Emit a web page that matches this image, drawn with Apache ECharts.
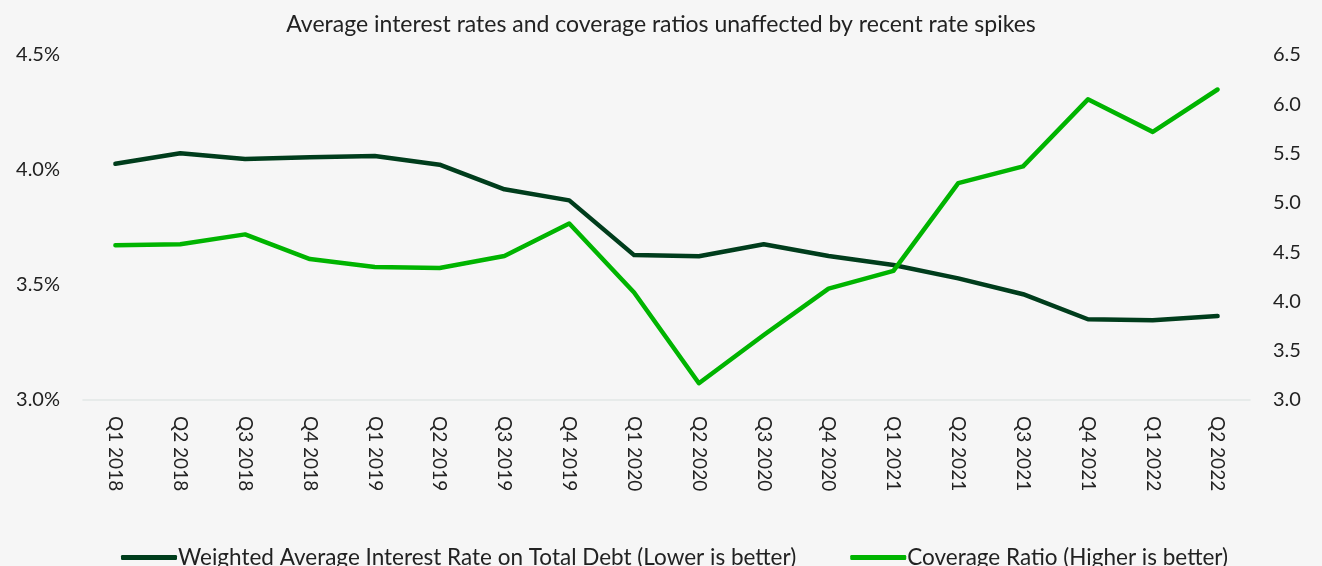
<!DOCTYPE html>
<html>
<head>
<meta charset="utf-8">
<script src="https://cdn.jsdelivr.net/npm/echarts@6/dist/echarts.min.js"></script>
<style>
html,body{margin:0;padding:0;background:#f6f6f6;}
#chart{width:1322px;height:566px;}
</style>
</head>
<body>
<div id="chart"></div>
<script>
const categories = ['Q1 2018','Q2 2018','Q3 2018','Q4 2018','Q1 2019','Q2 2019','Q3 2019','Q4 2019','Q1 2020','Q2 2020','Q3 2020','Q4 2020','Q1 2021','Q2 2021','Q3 2021','Q4 2021','Q1 2022','Q2 2022'];
const interestRate = [4.027,4.073,4.048,4.055,4.061,4.023,3.916,3.868,3.630,3.625,3.677,3.626,3.587,3.529,3.460,3.351,3.347,3.365];
const coverageRatio = [4.57,4.58,4.68,4.43,4.35,4.34,4.46,4.79,4.09,3.17,3.66,4.13,4.31,5.20,5.37,6.05,5.72,6.15];
const seriesNames = ['Weighted Average Interest Rate on Total Debt (Lower is better)','Coverage Ratio (Higher is better)'];
const titleText = 'Average interest rates and coverage ratios unaffected by recent rate spikes';

const FONT = 'Lato, "Noto Sans", sans-serif';
const chart = echarts.init(document.getElementById('chart'));
chart.setOption({
  backgroundColor: '#f6f6f6',
  animation: false,
  title: {
    text: titleText, left: 'center', top: 8,
    textStyle: {fontFamily: FONT, fontSize: 23, fontWeight: 'normal', color: '#222'}
  },
  legend: {
    bottom: -8, left: 116,
    itemWidth: 56, itemHeight: 5, itemGap: 54,
    icon: 'roundRect',
    textStyle: {fontFamily: FONT, fontSize: 22.5, color: '#222', padding: [0,0,0,-4]},
    data: seriesNames
  },
  grid: {left: 83, right: 72, top: 55, bottom: 166},
  xAxis: {
    type: 'category', data: categories, boundaryGap: true,
    axisLine: {lineStyle: {color: '#e2e8e6', width: 1.5}},
    axisTick: {show: false},
    axisLabel: {rotate: -90, margin: 16, fontFamily: FONT, fontSize: 19, color: '#222', interval: 0}
  },
  yAxis: [
    {
      type: 'value', min: 3.0, max: 4.5, interval: 0.5,
      splitLine: {show: false}, axisLine: {show: false}, axisTick: {show: false},
      axisLabel: {margin: 23, fontFamily: FONT, fontSize: 20, color: '#222',
        formatter: v => v.toFixed(1) + '%'}
    },
    {
      type: 'value', min: 3.0, max: 6.5, interval: 0.5,
      splitLine: {show: false}, axisLine: {show: false}, axisTick: {show: false},
      axisLabel: {margin: 23, fontFamily: FONT, fontSize: 20, color: '#222',
        formatter: v => v.toFixed(1)}
    }
  ],
  series: [
    {
      name: seriesNames[0], type: 'line', yAxisIndex: 0, data: interestRate,
      symbol: 'none', lineStyle: {color: '#003d1c', width: 4.5, cap: 'round', join: 'round'},
      itemStyle: {color: '#003d1c'}
    },
    {
      name: seriesNames[1], type: 'line', yAxisIndex: 1, data: coverageRatio,
      symbol: 'none', lineStyle: {color: '#00b400', width: 4.5, cap: 'round', join: 'round'},
      itemStyle: {color: '#00b400'}
    }
  ]
});
</script>
</body>
</html>
